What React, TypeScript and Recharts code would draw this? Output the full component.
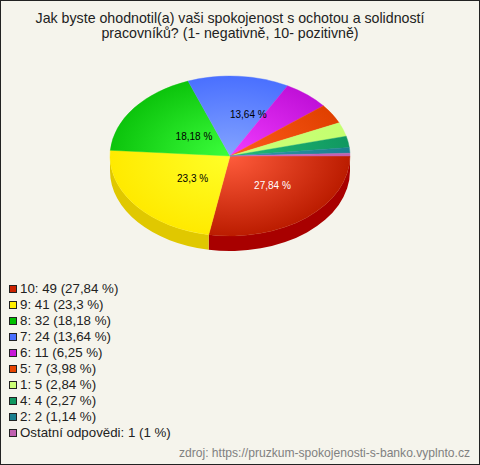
import { PieChart, Pie, Legend } from "recharts";

const categories = ["10", "9", "8", "7", "6", "5", "1", "4", "2", "Ostatní odpovědi"];
const counts = [49, 41, 32, 24, 11, 7, 5, 4, 2, 1];
const percents = ["27,84", "23,3", "18,18", "13,64", "6,25", "3,98", "2,84", "2,27", "1,14", "1"];
const innerColors = ["#ff5c3c", "#ffff28", "#3cff3c", "#84a4ff", "#f23cff", "#ff5c1c", "#ccff77", "#22bb77", "#3399aa", "#d468c4"];
const outerColors = ["#bb1c00", "#ffea00", "#0cc40c", "#4a70ff", "#c010d8", "#e04000", "#c4ff70", "#109860", "#1a8090", "#c060b0"];
const wallColors = ["#a80000", "#e0c800"];
const swatchColors = ["#cc2200", "#ffee00", "#00c000", "#4a70ff", "#c818d8", "#e84400", "#ccff77", "#109860", "#1a8090", "#c060b0"];
const labelNudge: Record<number, [number, number]> = {
  0: [4, -1],
  1: [10, -2],
  2: [12, 4],
  3: [14, -2],
};

const data = categories.map((c, i) => ({
  name: `${c}: ${counts[i]} (${percents[i]} %)`,
  value: counts[i],
  index: i,
}));

const CX = 230;
const CY = 156;
const RX = 120;
const SQUASH = 2 / 3;
const DEPTH = 15;
const FONT = '"Liberation Sans", Arial, sans-serif';

function pt(cx: number, cy: number, r: number, angle: number) {
  const rad = (-angle * Math.PI) / 180;
  return [cx + r * Math.cos(rad), cy + r * SQUASH * Math.sin(rad)];
}

// recharts sectors are round, so squash them into the tilted disc by hand
function DiscSlice(props: any) {
  const { cx, cy, outerRadius: r, startAngle, endAngle, index } = props;
  const [x1, y1] = pt(cx, cy, r, startAngle);
  const [x2, y2] = pt(cx, cy, r, endAngle);
  const large = Math.abs(startAngle - endAngle) > 180 ? 1 : 0;
  const ry = r * SQUASH;
  const top = `M${cx},${cy} L${x1},${y1} A${r},${ry} 0 ${large} 1 ${x2},${y2} Z`;

  // only the front half of the disc shows a wall
  const from = Math.max(endAngle, -180);
  const to = Math.min(startAngle, 0);
  let wall = null;
  if (from < to) {
    const [ax, ay] = pt(cx, cy, r, to);
    const [bx, by] = pt(cx, cy, r, from);
    const d = `M${ax},${ay} A${r},${ry} 0 0 1 ${bx},${by} L${bx},${by + DEPTH} A${r},${ry} 0 0 0 ${ax},${ay + DEPTH} Z`;
    wall = <path d={d} fill={wallColors[index] ?? outerColors[index]} />;
  }
  const fill = `url(#slice${index})`;
  return (
    <g>
      {wall}
      <path d={top} fill={fill} stroke={fill} strokeWidth={0.4} />
    </g>
  );
}

function SliceLabel(props: any) {
  const { cx, cy, midAngle, outerRadius: r, index } = props;
  if (counts[index] < 20) return null;
  const [x, y] = pt(cx, cy, r * 0.5, midAngle);
  const [dx, dy] = labelNudge[index];
  return (
    <text
      x={x + dx}
      y={y + dy}
      textAnchor="middle"
      dominantBaseline="central"
      fontFamily={FONT}
      fontSize={10}
      fill={index === 0 ? "#ffffff" : "#000000"}
    >
      {percents[index]} %
    </text>
  );
}

function LegendList({ payload }: any) {
  return (
    <div style={{ fontFamily: FONT, fontSize: 13.3, color: "#222", lineHeight: "16px" }}>
      {(payload ?? []).map((p: any, i: number) => (
        <div key={p.value} style={{ display: "flex", alignItems: "center", height: 16, whiteSpace: "nowrap" }}>
          <span
            style={{
              width: 6,
              height: 6,
              border: "1px solid #222",
              background: swatchColors[i],
              marginRight: 3,
            }}
          />
          {p.value}
        </div>
      ))}
    </div>
  );
}

export default function App() {
  return (
    <div
      style={{
        position: "absolute",
        left: 0,
        top: 0,
        width: 478,
        height: 463,
        border: "1px solid #222",
        background: "#f5f4ec",
        overflow: "hidden",
      }}
    >
      <PieChart width={478} height={463} margin={{ top: 0, right: 0, bottom: 0, left: 0 }}>
        <defs>
          {innerColors.map((c, i) => (
            <radialGradient
              key={i}
              id={`slice${i}`}
              gradientUnits="userSpaceOnUse"
              cx={CX - 1}
              cy={CY - 1}
              r={RX}
              gradientTransform={`translate(0 ${(CY - 1) * (1 - SQUASH)}) scale(1 ${SQUASH})`}
            >
              <stop offset="0%" stopColor={c} />
              <stop offset="100%" stopColor={outerColors[i]} />
            </radialGradient>
          ))}
        </defs>
        <text x={229} y={22} textAnchor="middle" fontFamily={FONT} fontSize={14.2} fill="#222">
          Jak byste ohodnotil(a) vaši spokojenost s ochotou a solidností
        </text>
        <text x={229} y={37} textAnchor="middle" fontFamily={FONT} fontSize={14.2} fill="#222">
          pracovníků? (1- negativně, 10- pozitivně)
        </text>
        <Pie
          data={data}
          dataKey="value"
          nameKey="name"
          cx={CX - 1}
          cy={CY - 1}
          outerRadius={RX}
          startAngle={0}
          endAngle={-360}
          stroke="none"
          shape={DiscSlice}
          inactiveShape={DiscSlice}
          label={SliceLabel}
          labelLine={false}
          isAnimationActive={false}
        />
        <Legend
          layout="vertical"
          content={LegendList}
          itemSorter={null}
          wrapperStyle={{ left: 8, top: 280, width: 300, height: 164 }}
        />
        <text x={469} y={456} textAnchor="end" fontFamily={FONT} fontSize={12.1} fill="#808080">
          zdroj: https://pruzkum-spokojenosti-s-banko.vyplnto.cz
        </text>
      </PieChart>
    </div>
  );
}
